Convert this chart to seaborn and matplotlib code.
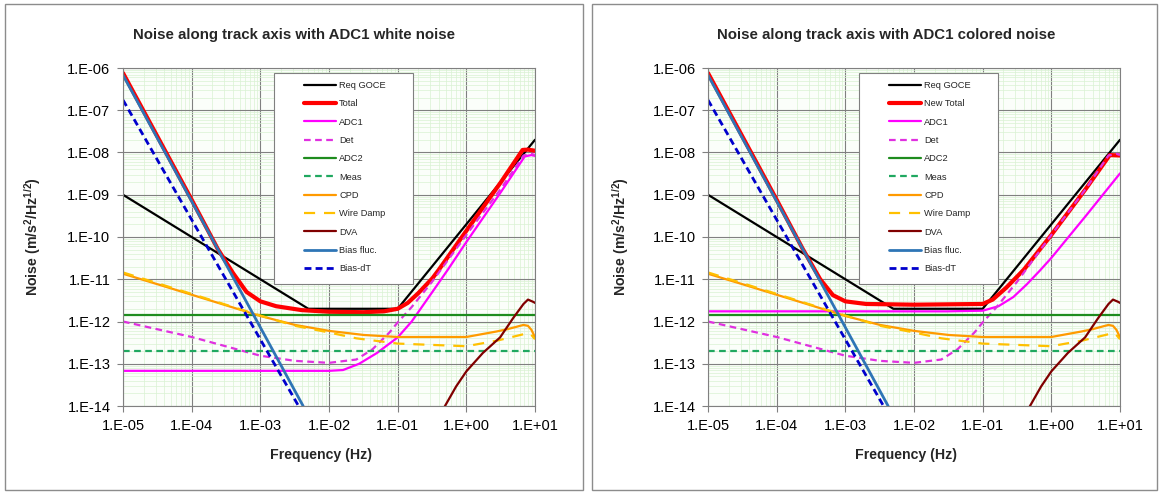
import numpy as np
import matplotlib
matplotlib.use("Agg")
import matplotlib.pyplot as plt
import seaborn as sns
from matplotlib.patches import Rectangle
from matplotlib.ticker import FixedLocator, FuncFormatter, LogLocator, NullFormatter

# values (frequency in Hz, noise in m/s2/Hz^1/2)
titles = ["Noise along track axis with ADC1 white noise",
          "Noise along track axis with ADC1 colored noise"]
total_labels = ["Total", "New Total"]

req_f = [1e-5, 5e-3, 0.1, 10]
req_n = [1e-9, 2e-12, 2e-12, 2e-8]

total_white_f = [1e-5, 1e-4, 2.4e-4, 4.0e-4, 6.3e-4, 1e-3, 1.7e-3, 4.0e-3, 1e-2, 3.2e-2,
                 6.3e-2, 0.1, 0.14, 0.2, 0.32, 0.4, 1, 3.2, 6.6, 7.9, 10]
total_white_n = [7.6e-7, 7.6e-10, 5.2e-11, 1.4e-11, 5.0e-12, 3.0e-12, 2.3e-12, 1.86e-12, 1.7e-12,
                 1.66e-12, 1.74e-12, 2.0e-12, 2.75e-12, 4.7e-12, 1.05e-11, 1.7e-11, 1.4e-10,
                 2.0e-9, 1.15e-8, 1.17e-8, 1.1e-8]

total_col_f = [1e-5, 1e-4, 2.4e-4, 4.3e-4, 6.6e-4, 1e-3, 2e-3, 1e-2, 0.1, 0.14, 0.22, 0.4,
               1, 3.2, 7.1, 10]
total_col_n = [7.6e-7, 7.6e-10, 5.2e-11, 1.0e-11, 4.2e-12, 3.0e-12, 2.6e-12, 2.5e-12, 2.6e-12,
               3.3e-12, 6.3e-12, 1.7e-11, 1.12e-10, 1.4e-9, 8.7e-9, 8.5e-9]

adc1_white_f = [1e-5, 1e-2, 1.6e-2, 2.75e-2, 5e-2, 0.1, 0.16, 0.32, 0.54, 1, 3.2, 7.1, 8.9, 10]
adc1_white_n = [6.8e-14, 6.8e-14, 7.1e-14, 1.0e-13, 1.8e-13, 4.2e-13, 1.0e-12, 5.0e-12,
                1.7e-11, 7.6e-11, 1.17e-9, 8.1e-9, 8.7e-9, 8.3e-9]

adc1_col_f = [1e-5, 3e-2, 0.1, 0.17, 0.28, 0.44, 0.68, 1, 3.2, 10]
adc1_col_n = [1.74e-12, 1.74e-12, 1.8e-12, 2.3e-12, 3.8e-12, 7.6e-12, 1.6e-11, 3.2e-11,
              3.2e-10, 3.2e-9]

det_f = [1e-5, 1e-4, 1e-3, 3.2e-3, 1e-2, 2.5e-2, 4.3e-2, 7.6e-2, 0.1, 0.16, 0.32, 1, 3.2,
         6.8, 8.9, 10]
det_n = [1.0e-12, 4.3e-13, 1.55e-13, 1.17e-13, 1.05e-13, 1.26e-13, 2.2e-13, 5.5e-13, 9.5e-13,
         2.2e-12, 8.9e-12, 1.12e-10, 1.4e-9, 8.5e-9, 9.3e-9, 8.7e-9]

adc2_f = [1e-5, 10]
adc2_n = [1.4e-12, 1.4e-12]

meas_f = [1e-5, 10]
meas_n = [1.95e-13, 1.95e-13]

cpd_f = [1e-5, 3.2e-5, 1e-4, 3.2e-4, 1e-3, 3.2e-3, 1e-2, 3.2e-2, 0.1, 1, 2.75, 4, 6.8, 7.9,
         8.9, 10]
cpd_n = [1.35e-11, 7.6e-12, 4.3e-12, 2.4e-12, 1.35e-12, 8.3e-13, 6.0e-13, 4.8e-13, 4.3e-13,
         4.3e-13, 5.8e-13, 6.6e-13, 8.3e-13, 7.9e-13, 6.3e-13, 4.2e-13]

wire_f = [1e-5, 1e-4, 1e-3, 3.2e-3, 1e-2, 2.5e-2, 0.1, 1, 2.75, 6.8, 8.5, 10]
wire_n = [1.45e-11, 4.5e-12, 1.38e-12, 7.9e-13, 5.5e-13, 4.0e-13, 3.0e-13, 2.6e-13, 3.5e-13,
          5.0e-13, 5.2e-13, 3.8e-13]

dva_f = [0.38, 0.48, 0.71, 1, 1.74, 3.1, 4.8, 6.8, 7.9, 9.5, 10]
dva_n = [3.2e-15, 9.5e-15, 2.9e-14, 6.6e-14, 1.8e-13, 4.2e-13, 1.2e-12, 2.6e-12, 3.3e-12,
         2.9e-12, 2.75e-12]

bias_f = [1e-5, 4.2e-3]
bias_n = [6.8e-7, 1e-14]

biasdt_f = [1e-5, 3.6e-3]
biasdt_n = [1.75e-7, 1e-14]

sns.set_theme(style="white")
plt.rcParams["font.family"] = ["Liberation Sans", "DejaVu Sans"]
plt.rcParams["mathtext.fontset"] = "custom"
plt.rcParams["mathtext.rm"] = "Liberation Sans:bold"
plt.rcParams["mathtext.bf"] = "Liberation Sans:bold"
plt.rcParams["mathtext.default"] = "bf"

W, H = 1160, 494
fig = plt.figure(figsize=(W / 100, H / 100), dpi=100)

# panel frames of the two Excel charts
for x0, x1 in [(5, 583), (592, 1157)]:
    fig.add_artist(Rectangle((x0 / W, 4 / H), (x1 - x0) / W, (490 - 4) / H,
                             transform=fig.transFigure, fill=False, ec="#8c8c8c", lw=1))

panels = [
    dict(left=123, title_x=294, ylab_x=33, xlab_x=321, total=(total_white_f, total_white_n),
         adc1=(adc1_white_f, adc1_white_n)),
    dict(left=708, title_x=886, ylab_x=621, xlab_x=906, total=(total_col_f, total_col_n),
         adc1=(adc1_col_f, adc1_col_n)),
]


def exp_label(v, pos):
    e = int(round(np.log10(v)))
    return f"1.E{e:+03d}"


for i, p in enumerate(panels):
    ax = fig.add_axes([p["left"] / W, 88 / H, 412 / W, 338 / H])
    ax.set_xscale("log")
    ax.set_yscale("log")

    series = [
        ("Req GOCE", req_f, req_n, "black", 1.6, "-"),
        (total_labels[i], p["total"][0], p["total"][1], "#ff0000", 3.0, "-"),
        ("ADC1", p["adc1"][0], p["adc1"][1], "#ff00ff", 1.6, "-"),
        ("Det", det_f, det_n, "#e030e0", 1.6, (0, (3, 2))),
        ("ADC2", adc2_f, adc2_n, "#1e8c1e", 1.6, "-"),
        ("Meas", meas_f, meas_n, "#20a860", 1.6, (0, (3, 2))),
        ("CPD", cpd_f, cpd_n, "#ff9a00", 1.6, "-"),
        ("Wire Damp", wire_f, wire_n, "#ffc000", 1.6, (0, (5, 4))),
        ("DVA", dva_f, dva_n, "#800000", 1.6, "-"),
        ("Bias fluc.", bias_f, bias_n, "#2e75b6", 2.0, "-"),
        ("Bias-dT", biasdt_f, biasdt_n, "#0000cc", 2.0, (0, (2.5, 1.5))),
    ]
    for name, fx, ny, col, lw, ls in series:
        sns.lineplot(x=fx, y=ny, ax=ax, color=col, linewidth=lw, linestyle=ls,
                     label=name, sort=False, estimator=None)

    ax.set_xlim(1e-5, 10)
    ax.set_ylim(1e-14, 1e-6)
    ax.xaxis.set_major_locator(FixedLocator([10.0 ** e for e in range(-5, 2)]))
    ax.yaxis.set_major_locator(FixedLocator([10.0 ** e for e in range(-14, -5)]))
    ax.xaxis.set_major_formatter(FuncFormatter(exp_label))
    ax.yaxis.set_major_formatter(FuncFormatter(exp_label))
    for axis in (ax.xaxis, ax.yaxis):
        axis.set_minor_locator(LogLocator(base=10, subs=np.arange(2, 10), numticks=100))
        axis.set_minor_formatter(NullFormatter())
    ax.set_facecolor("#fbfefa")
    ax.grid(which="minor", color="#d9f2d3", lw=0.5)
    ax.grid(which="major", color="#808080", lw=0.8)
    ax.set_axisbelow(True)
    ax.tick_params(which="major", bottom=True, left=True, length=4, width=0.8,
                   color="#808080", labelsize=10.5, labelcolor="black", pad=5)
    ax.tick_params(which="minor", length=0)
    for s in ax.spines.values():
        s.set_color("#808080")
        s.set_linewidth(0.8)
    ax.set_xlabel("")
    ax.set_ylabel("")

    # legend box drawn as in Excel, entries centred inside it
    ax.add_patch(Rectangle((0.3665, 0.361), 0.337, 0.624, transform=ax.transAxes,
                           facecolor="white", edgecolor="#808080", lw=0.8, zorder=5))
    leg = ax.legend(loc="upper left", bbox_to_anchor=((299 - 123) / 412, 0.975),
                    fontsize=6.7, handlelength=3.5, handletextpad=0.3,
                    labelspacing=1.0, borderpad=0, frameon=False)
    leg.set_zorder(6)

    fig.text(p["title_x"] / W, 1 - 35 / H, titles[i], ha="center", va="center",
             fontsize=10.8, weight="bold")
    fig.text(p["xlab_x"] / W, 1 - 455 / H, "Frequency (Hz)", ha="center", va="center",
             fontsize=10.2, weight="bold")
    fig.text(p["ylab_x"] / W, 1 - 237 / H, r"Noise (m/s$^{2}$/Hz$^{1/2}$)", ha="center",
             va="center", rotation=90, fontsize=10.2, weight="bold")

fig.savefig("out.png", dpi=100)
